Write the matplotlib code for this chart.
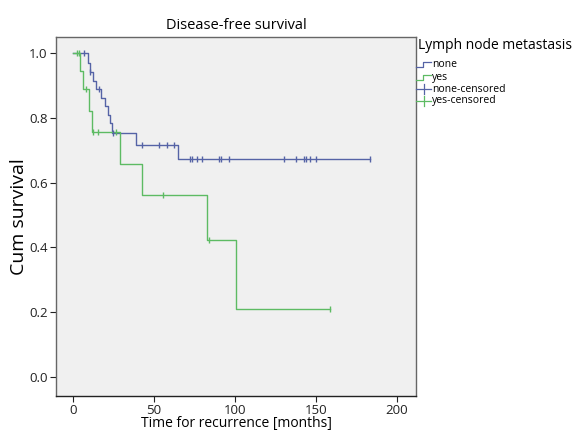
import matplotlib
matplotlib.use('Agg')
import matplotlib.pyplot as plt
from matplotlib.lines import Line2D

plt.rcParams['font.family'] = ['Open Sans', 'DejaVu Sans']

# Kaplan-Meier steps (time in months, cumulative survival)
none_times = [0, 9.4, 10.5, 12.5, 14.5, 17.5, 19.7, 21.8, 22.8, 23.9, 38.9, 64.8, 183.3]
none_surv = [1.0, 0.97, 0.943, 0.915, 0.888, 0.862, 0.836, 0.81, 0.785, 0.753, 0.715, 0.673, 0.673]
none_cens_t = [7, 10.5, 16, 25, 42.4, 53.3, 58.2, 62.5, 72.2, 73.5, 76.5, 79.5, 90,
               91.2, 96.5, 130.2, 138, 142.6, 143.8, 146.7, 150.4, 183.3]

yes_times = [0, 4.3, 6.4, 10.1, 11.6, 29, 42.4, 83.1, 101, 158.6]
yes_surv = [1.0, 0.945, 0.89, 0.82, 0.755, 0.658, 0.562, 0.421, 0.21, 0.21]
yes_cens_t = [2.5, 4, 8, 12.5, 15.6, 26.8, 55.4, 84.1, 158.6]

legend_labels = ['none', 'yes', 'none-censored', 'yes-censored']

blue = '#5563a6'
green = '#5dbb63'


def surv_at(times, surv, t):
    s = surv[0]
    for ti, si in zip(times, surv):
        if ti <= t:
            s = si
    return s


fig = plt.figure(figsize=(5.79, 4.33), dpi=100)
ax = fig.add_axes([0.0967, 0.0855, 0.6218, 0.829])
ax.set_facecolor('#f0f0f0')

ax.step(none_times, none_surv, where='post', color=blue, lw=1.0)
ax.step(yes_times, yes_surv, where='post', color=green, lw=1.0)
ax.plot(none_cens_t, [surv_at(none_times, none_surv, t) for t in none_cens_t],
        ls='none', marker='|', ms=5, mew=1.0, color=blue)
ax.plot(yes_cens_t, [surv_at(yes_times, yes_surv, t) for t in yes_cens_t],
        ls='none', marker='|', ms=5, mew=1.0, color=green)

ax.set_xlim(-10.5, 212)
ax.set_ylim(-0.06, 1.05)
ax.set_xticks([0, 50, 100, 150, 200])
ax.set_yticks([0.0, 0.2, 0.4, 0.6, 0.8, 1.0])
ax.set_yticklabels(['0.0', '0.2', '0.4', '0.6', '0.8', '1.0'])
ax.tick_params(labelsize=9.5, length=4, width=0.8, colors='#222222', pad=2)
for s in ax.spines.values():
    s.set_color('#666666')
    s.set_linewidth(1.0)
ax.spines['bottom'].set_color('#222222')

ax.set_title('Disease-free survival', fontsize=10.5, pad=6)
ax.set_xlabel('Time for recurrence [months]', fontsize=10, labelpad=-1)
ax.set_ylabel('Cum survival', fontsize=14, labelpad=1)

# legend drawn at the right of the axes
fig.text(0.722, 0.895, 'Lymph node metastasis', fontsize=10, va='center')
ys = [0.852, 0.822, 0.794, 0.767]
x0 = 0.719
for i, lab in enumerate(legend_labels):
    y = ys[i]
    c = blue if i % 2 == 0 else green
    if i < 2:
        fig.add_artist(Line2D([x0, x0 + 0.012, x0 + 0.012, x0 + 0.025],
                              [y - 0.006, y - 0.006, y + 0.004, y + 0.004],
                              transform=fig.transFigure, color=c, lw=0.9))
    else:
        fig.add_artist(Line2D([x0, x0 + 0.025], [y, y],
                              transform=fig.transFigure, color=c, lw=0.9))
        fig.add_artist(Line2D([x0 + 0.0125, x0 + 0.0125], [y - 0.011, y + 0.011],
                              transform=fig.transFigure, color=c, lw=0.9))
    fig.text(x0 + 0.027, y, lab, fontsize=7.5, va='center')

fig.savefig('out.png', dpi=100)
